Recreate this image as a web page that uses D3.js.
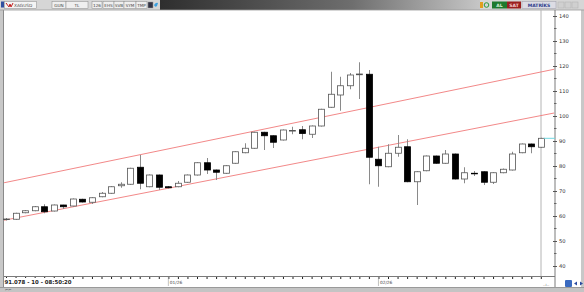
<!DOCTYPE html>
<html><head><meta charset="utf-8">
<script src="https://cdn.jsdelivr.net/npm/d3@7"></script>
<style>html,body{margin:0;padding:0;background:#fff;overflow:hidden}svg{display:block;font-family:"DejaVu Sans",sans-serif}</style>
</head><body><svg id="c" width="584" height="292"></svg>
<script>
// ---- data (daily candles, XAGUSD) ----
const openV  = [58.6,58.7,61.3,62.1,63.7,62.0,64.4,64.0,66.7,65.5,67.7,69.1,72.1,72.7,79.5,71.7,76.4,71.7,71.7,73.5,76.4,81.3,78.4,77.1,81.1,85.3,87.1,93.5,92.1,90.4,94.0,94.5,92.7,96.0,103.5,108.4,112.1,116.5,116.7,82.7,79.7,85.1,87.7,73.7,78.1,84.0,81.1,84.8,74.8,77.1,77.7,73.5,77.3,78.4,85.3,88.8,87.5];
const highV  = [59.2,61.3,62.4,64.0,64.7,64.6,64.5,67.0,66.9,67.5,69.6,71.9,73.5,79.3,84.4,76.6,76.6,72.0,74.0,76.6,81.5,83.2,78.6,80.3,85.9,89.1,93.7,93.7,92.3,94.6,95.7,96.0,96.2,102.9,117.7,115.7,117.2,121.5,118.4,87.7,88.7,92.4,90.7,77.9,84.2,84.2,86.4,85.0,79.5,78.0,77.9,77.5,79.0,85.7,89.0,89.0,91.3];
const lowV   = [58.2,58.5,61.1,61.9,61.1,61.8,62.8,63.8,65.4,64.8,67.5,68.9,71.3,72.5,70.7,71.5,70.4,71.0,71.5,73.3,76.2,76.8,74.4,76.9,80.9,85.1,86.9,86.4,87.2,90.2,92.7,90.7,91.2,95.8,103.3,102.1,110.7,106.8,72.7,71.7,79.5,83.7,73.5,64.4,77.9,80.9,80.9,74.6,73.1,76.0,72.4,72.8,77.1,78.2,85.1,85.1,87.3];
const closeV = [58.8,61.1,62.1,63.7,61.7,64.4,63.7,66.8,65.6,67.3,69.1,71.7,72.7,79.1,73.1,76.4,71.5,71.3,73.1,76.4,81.3,78.4,77.5,80.1,85.7,87.1,93.5,92.1,89.5,94.4,94.2,93.0,96.0,102.7,108.7,112.1,116.4,116.8,83.5,80.1,85.1,87.5,73.7,77.7,84.0,81.1,84.8,74.8,77.3,76.9,73.5,77.3,78.7,84.8,88.8,87.7,91.078];
const monthLabels = ["01/26","02/26"];
const monthIndex  = [17, 39];
const yTicks = [40,50,60,70,80,90,100,110,120,130,140];
// channel lines: [candle index, price] end points
const upperLine = [[-0.2, 73.3],[57.4, 118.7]];
const lowerLine = [[-0.2, 58.3],[57.4, 101.2]];
const lastInfo = "91.078 - 10 - 08:50:20";
const toolbarLeft = ["GUN","TL","126","EHS","SVB","SYM","TMP"];

const svg = d3.select("#c");
const W=584,H=292;
const plot={l:4,r:555,t:10,b:276};

const x = d3.scaleLinear().domain([0, openV.length-1]).range([6, 540.8]);
const y = d3.scaleLinear().domain([40,140]).range([266,16]);

// background frame
svg.append("rect").attr("width",W).attr("height",H).attr("fill","#fff");
svg.append("rect").attr("x",0).attr("y",0).attr("width",3).attr("height",H).attr("fill","#c8c8c8");
svg.append("line").attr("x1",3.5).attr("x2",3.5).attr("y1",10).attr("y2",287).attr("stroke","#8a8a8a");
svg.append("rect").attr("x",581).attr("y",0).attr("width",3).attr("height",H).attr("fill","#c8c8c8");
svg.append("rect").attr("x",0).attr("y",287).attr("width",W).attr("height",5).attr("fill","#c4c4c4");
svg.append("line").attr("x1",0).attr("x2",W).attr("y1",287.5).attr("y2",287.5).attr("stroke","#9a9a9a");

// toolbar
const defs=svg.append("defs");
const g1=defs.append("linearGradient").attr("id","tb").attr("x1","0").attr("x2","1").attr("y1","0").attr("y2","0");
g1.append("stop").attr("offset","0").attr("stop-color","#2e2e2e");
g1.append("stop").attr("offset","0.6").attr("stop-color","#6e6e6e");
g1.append("stop").attr("offset","1").attr("stop-color","#c6c6c6");
svg.append("rect").attr("x",0).attr("y",0).attr("width",W).attr("height",10).attr("fill","#d6d6d6");
svg.append("rect").attr("x",160).attr("y",0).attr("width",320).attr("height",10).attr("fill","url(#tb)");
svg.append("line").attr("x1",0).attr("x2",W).attr("y1",10).attr("y2",10).attr("stroke","#9a9a9a").attr("stroke-width",0.8);
// left toolbar widgets
svg.append("rect").attr("x",1).attr("y",1.5).attr("width",3).attr("height",6).attr("fill","#3050a0");
svg.append("rect").attr("x",4.5).attr("y",1.5).attr("width",32).attr("height",7).attr("fill","#f4f4f4").attr("stroke","#8a8a8a").attr("stroke-width",0.5);
svg.append("path").attr("d","M6,3 L9,7 L10,4 L11,7 L13,3").attr("fill","none").attr("stroke","#c02020").attr("stroke-width",1);
svg.append("text").attr("x",14).attr("y",7).attr("font-size",4.3).attr("fill","#555").text("XAGUSD");
const tbX=[52,66,92,103,114,124,136], tbW=[14,22,10,11,10,12,11];
toolbarLeft.forEach((t,i)=>{
  svg.append("rect").attr("x",tbX[i]).attr("y",1.5).attr("width",tbW[i]).attr("height",7).attr("fill","#efefef").attr("stroke","#8a8a8a").attr("stroke-width",0.5);
  svg.append("text").attr("x",tbX[i]+tbW[i]/2).attr("y",7).attr("text-anchor","middle").attr("font-size",4.2).attr("fill","#444").text(t);
});
svg.append("rect").attr("x",148).attr("y",2).attr("width",5).attr("height",6).attr("fill","#334").attr("stroke","#999").attr("stroke-width",0.5);
svg.append("path").attr("d","M154,5 q2,-3 4,-2 l-1,3 q-2,2 -3,-1z").attr("fill","#3aa0e0");
// right toolbar widgets
svg.append("rect").attr("x",480).attr("y",2).attr("width",3).attr("height",6).attr("fill","#e0a020");
svg.append("circle").attr("cx",486.5).attr("cy",5).attr("r",2.3).attr("fill","none").attr("stroke","#2a9a3a").attr("stroke-width",1);
svg.append("rect").attr("x",492).attr("y",1.5).attr("width",15).attr("height",7).attr("fill","#1e7a2e");
svg.append("text").attr("x",499.5).attr("y",7).attr("text-anchor","middle").attr("font-size",4.5).attr("font-weight","bold").attr("fill","#d8f0d8").text("AL");
svg.append("rect").attr("x",507).attr("y",1.5).attr("width",14).attr("height",7).attr("fill","#9a1e1e");
svg.append("text").attr("x",514).attr("y",7).attr("text-anchor","middle").attr("font-size",4.5).attr("font-weight","bold").attr("fill","#f4d0d0").text("SAT");
svg.append("rect").attr("x",522).attr("y",1.5).attr("width",34).attr("height",7).attr("fill","#dcdce4").attr("stroke","#9a9aa8").attr("stroke-width",0.5);
svg.append("text").attr("x",539).attr("y",7).attr("text-anchor","middle").attr("font-size",4.5).attr("font-weight","bold").attr("fill","#2a3a8a").text("MATRİKS");
[558,565,572].forEach(xx=>svg.append("rect").attr("x",xx).attr("y",2).attr("width",6).attr("height",6).attr("fill","#d0d0d0").attr("stroke","#b0b0b0").attr("stroke-width",0.5));

// gray current-bar line
svg.append("line").attr("x1",541).attr("x2",541).attr("y1",plot.t).attr("y2",plot.b).attr("stroke","#b4b4b4").attr("stroke-width",1);

// axes lines
svg.append("line").attr("x1",plot.r).attr("x2",plot.r).attr("y1",plot.t).attr("y2",287).attr("stroke","#7a7a7a");
svg.append("line").attr("x1",plot.l).attr("x2",plot.r).attr("y1",plot.b+0.5).attr("y2",plot.b+0.5).attr("stroke","#7a7a7a");

// y axis
const yAxis = d3.axisRight(y).tickValues(yTicks).tickSize(4).tickPadding(2).tickFormat(d=>d);
const ya = svg.append("g").attr("transform",`translate(${plot.r-2},0)`).call(yAxis);
ya.select(".domain").remove();
ya.selectAll(".tick line").attr("stroke","#555");
ya.selectAll(".tick text").attr("font-size",5.2).attr("fill","#333").attr("font-family","DejaVu Sans");
const minor = d3.range(45,141,10);
svg.append("g").selectAll("line").data(minor).join("line")
  .attr("x1",plot.r-1).attr("x2",plot.r+1.5).attr("y1",d=>y(d)).attr("y2",d=>y(d)).attr("stroke","#666");

// x axis ticks per candle
const xa = d3.axisBottom(x).tickValues(d3.range(openV.length)).tickSize(2).tickFormat("");
const xg = svg.append("g").attr("transform",`translate(0,${plot.b+1})`).call(xa);
xg.select(".domain").remove();
xg.selectAll(".tick line").attr("stroke","#222");
// month markers
monthIndex.forEach((mi,k)=>{
  svg.append("line").attr("x1",x(mi)).attr("x2",x(mi)).attr("y1",plot.b+1).attr("y2",plot.b+10).attr("stroke","#999").attr("stroke-width",0.6);
  svg.append("text").attr("x",x(mi)+1.5).attr("y",plot.b+8).attr("font-size",4.3).attr("fill","#444").text(monthLabels[k]);
});

// channel lines
const clipId="pclip";
defs.append("clipPath").attr("id",clipId).append("rect").attr("x",plot.l).attr("y",plot.t).attr("width",plot.r-plot.l).attr("height",plot.b-plot.t);
const lg = svg.append("g").attr("clip-path",`url(#${clipId})`);
const line = d3.line().x(d=>x(d[0])).y(d=>y(d[1]));
[upperLine, lowerLine].forEach(l=>{
  lg.append("path").attr("d",line(l)).attr("fill","none").attr("stroke","#f07a7a").attr("stroke-width",0.9);
});

// candles
const data = openV.map((o,i)=>({i,o,h:highV[i],l:lowV[i],c:closeV[i]}));
const cw = 6;
const cg = svg.append("g");
cg.selectAll("line.w").data(data).join("line")
  .attr("x1",d=>Math.round(x(d.i))+0.5).attr("x2",d=>Math.round(x(d.i))+0.5)
  .attr("y1",d=>y(d.h)).attr("y2",d=>y(d.l)).attr("stroke","#8a8a8a").attr("stroke-width",1);
cg.selectAll("rect").data(data).join("rect")
  .attr("x",d=>Math.round(x(d.i))-cw/2+0.5).attr("width",cw)
  .attr("y",d=>y(Math.max(d.o,d.c))).attr("height",d=>Math.max(0.6,Math.abs(y(d.o)-y(d.c))))
  .attr("fill",d=>d.c>=d.o?"#fff":"#000")
  .attr("stroke",d=>d.c>=d.o?"#555":"#000").attr("stroke-width",0.8);

// last price line
const lastC = closeV[closeV.length-1];
svg.append("line").attr("x1",x(openV.length-1)+3).attr("x2",plot.r).attr("y1",y(lastC)).attr("y2",y(lastC)).attr("stroke","#70d8e0").attr("stroke-width",1);

// bottom left info
svg.append("rect").attr("x",4).attr("y",278).attr("width",62).attr("height",7).attr("fill","#fff");
svg.append("text").attr("x",4.5).attr("y",284).attr("font-size",5.4).attr("font-weight","bold").attr("fill","#222").text(lastInfo);
svg.append("text").attr("x",5).attr("y",290.5).attr("font-size",4).attr("fill","#555").text("⌐⌐");
// bottom right icons
svg.append("text").attr("x",543).attr("y",286).attr("font-size",4).attr("fill","#666").text("..ı..");
svg.append("rect").attr("x",565).attr("y",280).attr("width",7).attr("height",7).attr("fill","#3a6ac0").attr("rx",1);
svg.append("path").attr("d","M574,283.5 l3,-2 v4z M583,283.5 l-3,-2 v4z").attr("fill","#2a4aa0");
</script></body></html>
